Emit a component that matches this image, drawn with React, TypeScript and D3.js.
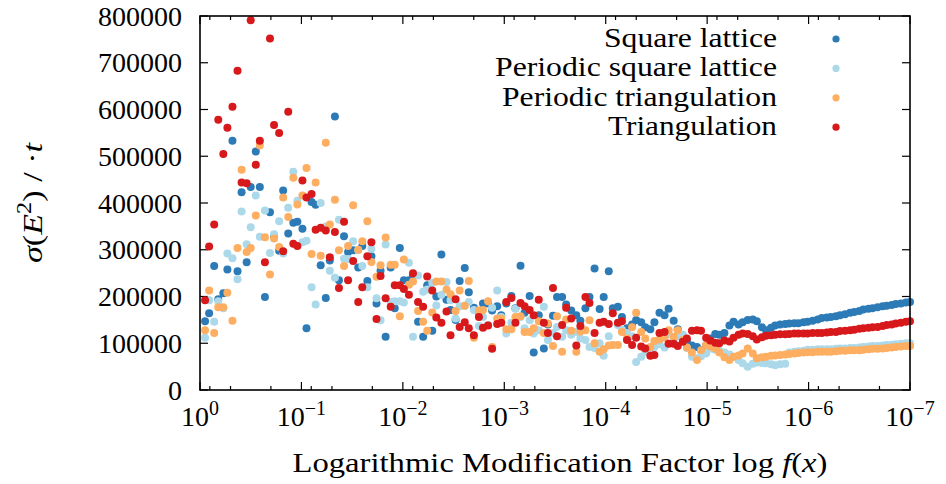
import React from "react";
import * as d3 from "d3";

// log10 of the modification factor f for every recorded step
const logF = [
  -0.05, -0.09, -0.14, -0.18, -0.23, -0.27, -0.32, -0.37, -0.41, -0.46,
  -0.5, -0.55, -0.59, -0.64, -0.69, -0.73, -0.78, -0.82, -0.87, -0.92,
  -0.96, -1.01, -1.05, -1.1, -1.14, -1.19, -1.24, -1.28, -1.33, -1.37,
  -1.42, -1.46, -1.51, -1.56, -1.6, -1.65, -1.69, -1.74, -1.78, -1.83,
  -1.88, -1.92, -1.97, -2.01, -2.06, -2.1, -2.15, -2.2, -2.24, -2.29,
  -2.33, -2.38, -2.43, -2.47, -2.52, -2.56, -2.61, -2.65, -2.7, -2.75,
  -2.79, -2.84, -2.88, -2.93, -2.97, -3.02, -3.07, -3.11, -3.16, -3.2,
  -3.25, -3.29, -3.34, -3.39, -3.43, -3.48, -3.52, -3.57, -3.61, -3.66,
  -3.71, -3.75, -3.8, -3.84, -3.89, -3.94, -3.98, -4.03, -4.07, -4.12,
  -4.16, -4.21, -4.26, -4.3, -4.35, -4.39, -4.44, -4.48, -4.53, -4.58,
  -4.62, -4.67, -4.71, -4.76, -4.8, -4.85, -4.9, -4.94, -4.99, -5.03,
  -5.08, -5.12, -5.17, -5.22, -5.26, -5.31, -5.35, -5.4, -5.45, -5.49,
  -5.54, -5.58, -5.63, -5.67, -5.72, -5.77, -5.81, -5.86, -5.9, -5.95,
  -5.99, -6.04, -6.09, -6.13, -6.18, -6.22, -6.27, -6.31, -6.36, -6.41,
  -6.45, -6.5, -6.54, -6.59, -6.63, -6.68, -6.73, -6.77, -6.82, -6.86,
  -6.91, -6.96, -7.0,
];

const squareLattice = [
  147000, 164000, 265000, 194000, 207000, 258000, 533000, 254000, 423000, 273000,
  434000, 510000, 434000, 199000, 380000, 330000, 298000, 427000, 335000, 358000,
  360000, 345000, 132000, 402000, 396000, 267000, 197000, 277000, 585000, 235000,
  329000, 295000, 299000, 262000, 308000, 233000, 286000, 185000, 255000, 114000,
  262000, 175000, 304000, 235000, 235000, 245000, 146000, 114000, 224000, 127000,
  200000, 290000, 193000, 171000, 150000, 233000, 261000, 209000, 176000, 165000,
  185000, 185000, 170000, 179000, 160000, 185000, 201000, 175000, 266000, 165000,
  201000, 80000, 160000, 89000, 140000, 159000, 199000, 199000, 183000, 170000,
  160000, 148000, 175000, 199000, 260000, 173000, 199000, 254000, 175000, 178000,
  156000, 132000, 140000, 150000, 145000, 134000, 130000, 145000, 165000, 160000,
  174000, 148000, 130000, 115000, 105000, 95000, 92000, 85000, 95000, 110000,
  120000, 118000, 122000, 138000, 146000, 140000, 145000, 150000, 151000, 147000,
  134000, 128000, 133000, 138000, 140000, 141000, 142000, 143000, 143000, 145000,
  146000, 148000, 151000, 154000, 155000, 156000, 158000, 160000, 162000, 165000,
  167000, 169000, 172000, 174000, 175000, 177000, 179000, 180000, 182000, 184000,
  185000, 187000, 188000,
];

const periodicSquareLattice = [
  112000, 192000, 146000, 190000, 175000, 292000, 282000, 237000, 382000, 312000,
  348000, 416000, 328000, 384000, 293000, 333000, 361000, 292000, 390000, 467000,
  405000, 316000, 319000, 220000, 183000, 400000, 350000, 255000, 240000, 364000,
  281000, 280000, 318000, 299000, 265000, 220000, 302000, 196000, 149000, 311000,
  188000, 190000, 190000, 187000, 272000, 114000, 245000, 210000, 215000, 229000,
  181000, 204000, 231000, 192000, 153000, 179000, 180000, 188000, 171000, 137000,
  156000, 139000, 176000, 213000, 156000, 121000, 144000, 174000, 156000, 132000,
  149000, 121000, 128000, 178000, 107000, 122000, 135000, 114000, 128000, 118000,
  124000, 110000, 107000, 92000, 90000, 100000, 73000, 115000, 96000, 139000,
  129000, 122000, 115000, 60000, 71000, 82000, 88000, 92000, 98000, 91000,
  120000, 107000, 115000, 118000, 90000, 71000, 68000, 72000, 78000, 88000,
  86000, 84000, 80000, 76000, 71000, 64000, 57000, 50000, 56000, 59000,
  58000, 57000, 55000, 53000, 55000, 56000, 80000, 82000, 83000, 84000,
  86000, 86000, 87000, 87000, 87000, 87000, 88000, 89000, 89000, 90000,
  90000, 91000, 92000, 93000, 94000, 94000, 95000, 96000, 97000, 98000,
  99000, 100000, 100000,
];

const periodicTriangulation = [
  128000, 213000, 122000, 177000, 177000, 208000, 148000, 304000, 471000, 295000,
  304000, 373000, 523000, 327000, 247000, 324000, 306000, 412000, 370000, 454000,
  397000, 416000, 475000, 291000, 444000, 287000, 529000, 354000, 407000, 299000,
  265000, 308000, 395000, 300000, 318000, 361000, 274000, 242000, 267000, 326000,
  268000, 268000, 158000, 279000, 225000, 232000, 169000, 146000, 127000, 166000,
  232000, 232000, 215000, 205000, 169000, 213000, 180000, 233000, 112000, 170000,
  171000, 190000, 92000, 153000, 153000, 130000, 130000, 156000, 158000, 124000,
  124000, 132000, 147000, 122000, 142000, 94000, 158000, 82000, 151000, 127000,
  82000, 125000, 128000, 149000, 100000, 82000, 87000, 95000, 96000, 96000,
  124000, 110000, 134000, 165000, 124000, 110000, 92000, 105000, 108000, 112000,
  128000, 114000, 128000, 107000, 91000, 80000, 64000, 85000, 96000, 93000,
  89000, 80000, 70000, 64000, 71000, 74000, 78000, 89000, 78000, 68000,
  70000, 71000, 73000, 74000, 75000, 76000, 77000, 78000, 79000, 80000,
  81000, 81000, 82000, 82000, 82000, 82000, 83000, 84000, 84000, 85000,
  85000, 85000, 86000, 87000, 88000, 88000, 89000, 90000, 91000, 92000,
  93000, 94000, 94000,
];

const triangulation = [
  192000, 307000, 354000, 578000, 505000, 561000, 606000, 683000, 444000, 442000,
  791000, 482000, 533000, 273000, 752000, 567000, 550000, 297000, 595000, 313000,
  308000, 448000, 412000, 419000, 343000, 347000, 341000, 284000, 338000, 218000,
  360000, 235000, 276000, 188000, 220000, 286000, 316000, 152000, 244000, 196000,
  178000, 224000, 224000, 216000, 204000, 250000, 188000, 178000, 243000, 213000,
  155000, 144000, 168000, 117000, 194000, 135000, 145000, 132000, 117000, 156000,
  133000, 138000, 88000, 141000, 144000, 188000, 197000, 144000, 186000, 179000,
  171000, 160000, 193000, 144000, 122000, 218000, 115000, 139000, 176000, 153000,
  95000, 137000, 199000, 186000, 122000, 144000, 146000, 141000, 164000, 144000,
  147000, 107000, 96000, 112000, 93000, 89000, 73000, 75000, 122000, 124000,
  99000, 99000, 94000, 103000, 110000, 127000, 128000, 127000, 112000, 106000,
  101000, 100000, 106000, 104000, 112000, 118000, 121000, 120000, 115000, 108000,
  113000, 116000, 117000, 118000, 119000, 119000, 120000, 121000, 121000, 121000,
  121000, 122000, 122000, 122000, 123000, 124000, 124000, 126000, 127000, 128000,
  129000, 131000, 132000, 133000, 134000, 135000, 137000, 139000, 140000, 142000,
  144000, 146000, 147000,
];

const seriesNames = [
  "Square lattice",
  "Periodic square lattice",
  "Periodic triangulation",
  "Triangulation",
];
const seriesColors = ["#2c7bb6", "#abd9e9", "#fdae61", "#d7191c"];
const seriesValues = [squareLattice, periodicSquareLattice, periodicTriangulation, triangulation];
const legendWidths = [173, 282, 275, 169];

const yTicks = [0, 100000, 200000, 300000, 400000, 500000, 600000, 700000, 800000];
const xTickExponents = [0, -1, -2, -3, -4, -5, -6, -7];
const xMinorMultipliers = [8, 5, 2];

const W = 946;
const H = 484;
const M = { left: 200, right: 910, top: 16, bottom: 390 };
const FONT = "Liberation Serif, DejaVu Serif, serif";

export default function App() {
  const x = d3.scaleLog().domain([1, 1e-7]).range([M.left, M.right]);
  const y = d3.scaleLinear().domain([0, 800000]).range([M.bottom, M.top]);

  const minorTicks: number[] = [];
  xTickExponents.slice(1).forEach((e) => {
    xMinorMultipliers.forEach((m) => minorTicks.push(m * Math.pow(10, e)));
  });

  const majorLen = 8;
  const minorLen = 4;
  const tf = { fontFamily: FONT };

  return (
    <svg
      width={W}
      height={H}
      style={{ position: "absolute", left: 0, top: 0, background: "#fff", fontFamily: FONT }}
    >
      <rect x={0} y={0} width={W} height={H} fill="#fff" />

      {/* ticks */}
      <g stroke="#000" strokeWidth={1.2}>
        {yTicks.map((t) => (
          <g key={"yt" + t}>
            <line x1={M.left} x2={M.left + majorLen} y1={y(t)} y2={y(t)} />
            <line x1={M.right} x2={M.right - majorLen} y1={y(t)} y2={y(t)} />
          </g>
        ))}
        {xTickExponents.map((e) => {
          const px = x(Math.pow(10, e));
          return (
            <g key={"xt" + e}>
              <line x1={px} x2={px} y1={M.bottom} y2={M.bottom - majorLen} />
              <line x1={px} x2={px} y1={M.top} y2={M.top + majorLen} />
            </g>
          );
        })}
        {minorTicks.map((v, i) => {
          const px = x(v);
          return (
            <g key={"mt" + i}>
              <line x1={px} x2={px} y1={M.bottom} y2={M.bottom - minorLen} />
              <line x1={px} x2={px} y1={M.top} y2={M.top + minorLen} />
            </g>
          );
        })}
      </g>

      {/* data */}
      {seriesValues.map((vals, si) => (
        <g key={"s" + si} fill={seriesColors[si]}>
          {vals.map((v, i) => (
            <circle key={i} cx={x(Math.pow(10, logF[i]))} cy={y(v)} r={4} />
          ))}
        </g>
      ))}

      {/* frame */}
      <rect
        x={M.left}
        y={M.top}
        width={M.right - M.left}
        height={M.bottom - M.top}
        fill="none"
        stroke="#000"
        strokeWidth={1.6}
      />

      {/* y tick labels */}
      <g fontSize={28} textAnchor="end" fill="#000">
        {yTicks.map((t) => (
          <text key={"yl" + t} x={182} y={y(t) + 9.5} style={tf}>
            {t}
          </text>
        ))}
      </g>

      {/* x tick labels */}
      <g fontSize={28} textAnchor="middle" fill="#000">
        {xTickExponents.map((e) => (
          <text key={"xl" + e} x={x(Math.pow(10, e))} y={426} style={tf}>
            10
            <tspan dy={-11} fontSize={20}>
              {e === 0 ? "0" : "\u2212" + Math.abs(e)}
            </tspan>
          </text>
        ))}
      </g>

      {/* axis titles */}
      <text
        x={560}
        y={472}
        fontSize={28}
        textAnchor="middle"
        textLength={535}
        lengthAdjust="spacingAndGlyphs"
        style={tf}
      >
        Logarithmic Modification Factor log <tspan fontStyle="italic">f</tspan>(
        <tspan fontStyle="italic">x</tspan>)
      </text>
      <text
        transform="translate(42,203) rotate(-90)"
        fontSize={28}
        textAnchor="middle"
        textLength={120}
        lengthAdjust="spacingAndGlyphs"
        style={tf}
      >
        <tspan fontStyle="italic">σ</tspan>(<tspan fontStyle="italic">E</tspan>
        <tspan dy={-11} fontSize={20}>2</tspan>
        <tspan dy={11}>) / ·</tspan>
        <tspan fontStyle="italic">t</tspan>
      </text>

      {/* legend */}
      {seriesNames.map((name, i) => {
        const baseline = 47 + i * 29.4;
        return (
          <g key={"lg" + i}>
            <text
              x={777}
              y={baseline}
              fontSize={28}
              textAnchor="end"
              textLength={legendWidths[i]}
              lengthAdjust="spacingAndGlyphs"
              style={tf}
            >
              {name}
            </text>
            <circle cx={836} cy={baseline - 8} r={3.6} fill={seriesColors[i]} />
          </g>
        );
      })}
    </svg>
  );
}
